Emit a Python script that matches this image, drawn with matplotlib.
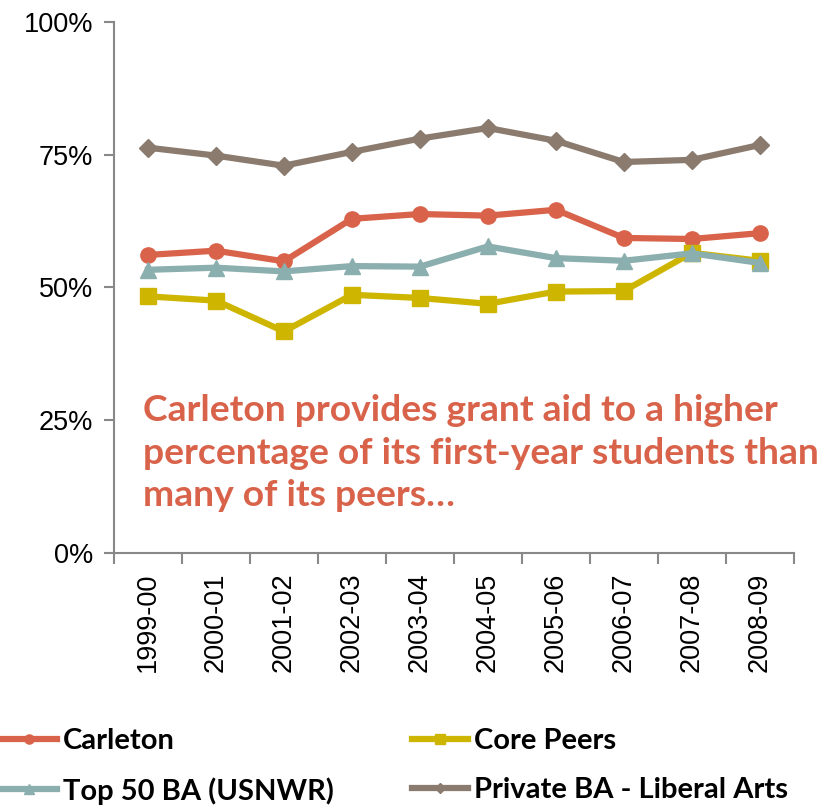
import matplotlib
matplotlib.use("Agg")
import matplotlib.pyplot as plt
import numpy as np

years = ["1999-00", "2000-01", "2001-02", "2002-03", "2003-04",
         "2004-05", "2005-06", "2006-07", "2007-08", "2008-09"]
carleton = [56.1, 56.9, 54.9, 62.9, 63.8, 63.5, 64.6, 59.3, 59.1, 60.2]
core_peers = [48.3, 47.5, 41.7, 48.6, 48.0, 46.9, 49.2, 49.3, 56.5, 55.0]
top50 = [53.3, 53.7, 53.0, 54.0, 53.9, 57.7, 55.5, 55.0, 56.4, 54.6]
private_ba = [76.3, 74.8, 72.9, 75.5, 78.0, 80.0, 77.6, 73.6, 74.0, 76.8]

plt.rcParams['font.family'] = ['Liberation Sans', 'DejaVu Sans']

fig = plt.figure(figsize=(8.2, 8.06), dpi=100)
ax = fig.add_axes([0.139, 0.314, 0.829, 0.659])

x = np.arange(len(years))
lw = 4.5
h1, = ax.plot(x, carleton, color="#D9634A", lw=lw, marker="o", ms=11, label="Carleton")
h2, = ax.plot(x, core_peers, color="#CDB500", lw=lw, marker="s", ms=11, label="Core Peers")
h3, = ax.plot(x, top50, color="#8BAEAE", lw=lw, marker="^", ms=11, label="Top 50 BA (USNWR)")
h4, = ax.plot(x, private_ba, color="#8B7B6E", lw=lw, marker="D", ms=9, label="Private BA - Liberal Arts")

ax.set_xlim(-0.5, len(years) - 0.5)
ax.set_ylim(0, 100)
ax.set_yticks([0, 25, 50, 75, 100])
ax.set_yticklabels(["0%", "25%", "50%", "75%", "100%"], fontsize=19.5)
ax.set_xticks(x)
ax.set_xticklabels(years, rotation=90, fontsize=19.5)
ax.set_xticks(np.arange(-0.5, len(years)), minor=True)
ax.tick_params(axis="x", which="major", length=0, pad=14)
ax.tick_params(axis="x", which="minor", length=8, color="#888888", width=1.5)
ax.tick_params(axis="y", length=7, color="#888888", width=1.5, pad=8)
for s in ["top", "right"]:
    ax.spines[s].set_visible(False)
for s in ["left", "bottom"]:
    ax.spines[s].set_color("#888888")
    ax.spines[s].set_linewidth(1.5)

ax.text(0.043, 0.188, "Carleton provides grant aid to a higher\npercentage of its first-year students than\nmany of its peers\u2026",
        transform=ax.transAxes, color="#D9634A", fontsize=26.8, fontweight="bold",
        family=["Lato", "DejaVu Sans"], va="center", ha="left", linespacing=1.36)

leg = fig.legend(handles=[h1, h3, h2, h4], loc="lower left", bbox_to_anchor=(0.0, 0.0),
                 ncol=2, frameon=False,
                 prop={"weight": "bold", "size": 21, "family": ["Lato", "DejaVu Sans"]},
                 handlelength=1.9, handletextpad=0.2, columnspacing=2.7, labelspacing=0.78,
                 markerscale=0.6, borderpad=0.05, borderaxespad=0.0)

fig.savefig("out.png", dpi=100)
